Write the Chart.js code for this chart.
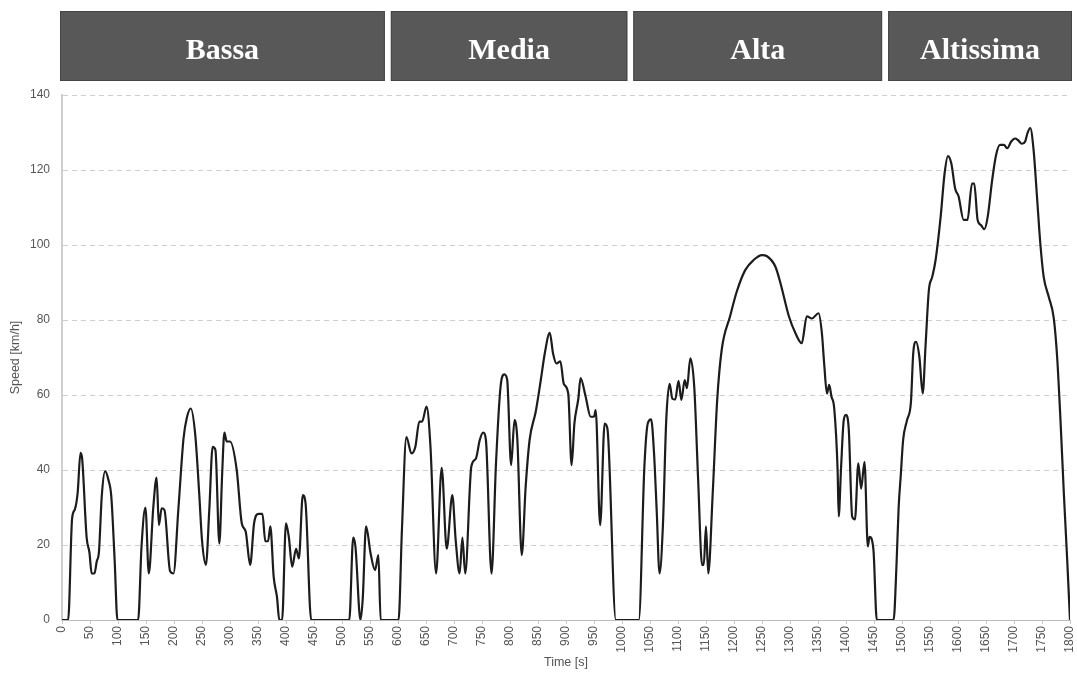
<!DOCTYPE html>
<html>
<head>
<meta charset="utf-8">
<script src="https://cdn.jsdelivr.net/npm/chart.js@4/dist/chart.umd.min.js"></script>
<style>
  html, body { margin: 0; padding: 0; background: #ffffff; }
  #wrap { width: 1077px; height: 673px; position: relative; }
</style>
</head>
<body>
<div id="wrap"><canvas id="speedChart"></canvas></div>
<script>
// Driving cycle: time [s] and vehicle speed [km/h]
const timeS = [
  0, 11, 18, 23, 28, 33, 36, 44, 49, 53, 58, 62, 66, 71, 77, 83, 88, 94, 99,
  136, 142, 149, 155, 163, 169, 173, 178, 183, 193, 199, 208, 217, 223, 230,
  238, 245, 250, 257, 263, 269, 274, 281, 286, 290, 294, 300, 312, 321, 328,
  336, 343, 351, 358, 363, 368, 372, 378, 384, 388, 393, 400, 405, 411, 418,
  423, 430, 435, 445, 513, 520, 524, 533, 537, 543, 551, 559, 565, 569,
  601, 607, 615, 624, 631, 638, 643, 651, 658, 668, 678, 687, 697, 703, 710,
  715, 720, 731, 739, 746, 752, 757, 767, 775, 783, 790, 795, 802, 808, 813,
  821, 828, 835, 846, 855, 862, 871, 877, 883, 890, 896, 904, 910, 915, 922,
  926, 935, 944, 950, 953, 961, 969, 974, 989,
  1030, 1040, 1046, 1052, 1057, 1062, 1067, 1073, 1079, 1085, 1090, 1095,
  1101, 1106, 1112, 1116, 1122, 1129, 1136, 1143, 1146, 1150, 1154, 1162,
  1170, 1178, 1193, 1205, 1220, 1235, 1250, 1259, 1274, 1283, 1298, 1310,
  1321, 1330, 1339, 1351, 1357, 1361, 1366, 1370, 1374, 1379, 1385, 1387,
  1391, 1396, 1400, 1405, 1411, 1416, 1422, 1427, 1433, 1439, 1442, 1449, 1455,
  1485, 1490, 1494, 1498, 1502, 1509, 1516, 1520, 1525, 1531, 1537, 1542,
  1548, 1554, 1560, 1569, 1576, 1582, 1588, 1595, 1601, 1610, 1617, 1625,
  1629, 1635, 1641, 1647, 1653, 1661, 1668, 1675, 1682, 1688, 1695, 1702,
  1707, 1714, 1720, 1724, 1729, 1735, 1741, 1747, 1753, 1762, 1771, 1777,
  1783, 1789, 1795, 1800
];

const speedKmh = [
  0, 0, 27, 29.5, 34, 44.6, 43, 22, 18, 12.4, 12.4, 15.6, 18.2, 33, 39.7, 37.3, 33, 16, 0,
  0, 19.6, 30, 12.4, 30, 38, 25.3, 29.8, 29.3, 13, 12.4, 30, 48.4, 54, 56.4,
  49.3, 33.8, 21.3, 14.7, 29.3, 46.2, 45.3, 20.4, 39, 50, 47.6, 47.6, 40, 25.8, 23.6,
  14.7, 25.8, 28.3, 28.3, 21, 21, 25, 11.5, 6, 0, 0, 25.8, 22.2, 14.2, 19,
  16.4, 33.3, 31, 0, 0, 22, 19.6, 0, 5.6, 25, 17.8, 13.3, 17.3, 0,
  0, 24, 48.8, 44.4, 46.2, 52.9, 52.9, 56.9, 46.2, 12.4, 40.6, 19, 33.3, 21.3, 12.4,
  22, 12.4, 41, 43, 48, 50, 48, 12.4, 41.8, 62, 65.5, 64, 41.3, 53.3, 48.4,
  17.3, 35.6, 48, 55.6, 64, 71, 76.6, 71, 68.4, 69, 63, 60.4, 41.3, 52.4, 59,
  64.5, 59.6, 54.2, 54.2, 56, 25.3, 52.4, 51, 0,
  0, 41, 52.4, 53.5, 45, 29, 12.4, 25, 53.3, 63, 59, 58.8,
  63.8, 58.7, 64, 61.8, 69.8, 62.2, 37.3, 14.7, 14.7, 25, 12.4, 33.8,
  58.7, 72, 81, 87.6, 93.3, 96, 97.3, 97, 94.2, 89.8, 81, 76.4,
  73.8, 81, 80.4, 81.8, 76.4, 68.4, 60.4, 62.7, 59.6, 56.4, 40, 27.6,
  40, 53.3, 54.7, 50.7, 27.6, 26.8, 41.8, 35, 42.2, 19.6, 22.2, 18.7, 0,
  0, 14, 30, 39, 48, 53.3, 58.2, 71, 74.2, 70.2, 60.4, 73,
  88, 91.5, 96, 107.5, 119, 123.7, 121.8, 115, 113, 106.7, 106.7, 116.4,
  116.4, 106.7, 105.3, 104.2, 107.5, 117.3, 124, 126.7, 126.7, 125.8, 127.6, 128.4,
  128, 127, 127.6, 129.8, 131.2, 125.3, 113, 100.4, 91.5, 86.2, 80.5, 70.2,
  53.3, 33.8, 16, 0
];

// Cycle phases and their limits [s]
const phaseNames = ['Bassa', 'Media', 'Alta', 'Altissima'];
const phaseLimits = [0, 589, 1022, 1477, 1800];

// Axis ranges
const timeMax = 1800;
const timeStep = 50;
const speedMax = 140;
const speedStep = 20;

const points = timeS.map((t, i) => ({ x: t, y: speedKmh[i] }));

// Dark header bands naming each phase above the plot
const phaseHeaders = {
  id: 'phaseHeaders',
  afterDraw(chart) {
    const { ctx, scales: { x }, chartArea } = chart;
    const top = 11, bottom = 81;
    ctx.save();
    phaseNames.forEach((name, i) => {
      let x0 = x.getPixelForValue(phaseLimits[i]) - 1;
      let x1 = x.getPixelForValue(phaseLimits[i + 1]) - 7;
      if (i === 0) x0 = chartArea.left - 2;
      if (i === phaseNames.length - 1) x1 = chartArea.right + 2;
      ctx.fillStyle = '#585858';
      ctx.fillRect(x0, top, x1 - x0, bottom - top);
      ctx.strokeStyle = '#454545';
      ctx.lineWidth = 1;
      ctx.strokeRect(x0 + 0.5, top + 0.5, x1 - x0 - 1, bottom - top - 1);
      ctx.fillStyle = '#ffffff';
      ctx.font = 'bold 30px "Liberation Serif", "Times New Roman", serif';
      ctx.textAlign = 'center';
      ctx.textBaseline = 'alphabetic';
      ctx.fillText(name, (x0 + x1) / 2, 59);
    });
    ctx.restore();
  }
};

Chart.defaults.font.family = '"Liberation Sans", Arial, sans-serif';
Chart.defaults.color = '#555555';

new Chart(document.getElementById('speedChart'), {
  type: 'line',
  data: {
    datasets: [{
      label: 'Speed',
      data: points,
      borderColor: '#1c1c1c',
      borderWidth: 2.2,
      pointRadius: 0,
      fill: false,
      cubicInterpolationMode: 'monotone'
    }]
  },
  options: {
    responsive: true,
    maintainAspectRatio: false,
    animation: false,
    layout: { padding: { top: 95, right: 7, bottom: 0, left: 0 } },
    plugins: {
      legend: { display: false },
      tooltip: { enabled: false }
    },
    scales: {
      x: {
        type: 'linear',
        min: 0,
        max: timeMax,
        afterFit(scale) {
          scale.height = 53;
          scale.paddingRight = 0;
          scale.paddingLeft = 0;
        },
        ticks: {
          stepSize: timeStep,
          autoSkip: false,
          minRotation: 90,
          maxRotation: 90,
          padding: 2,
          font: { size: 12 },
          color: '#555555',
          callback: (v) => String(v)
        },
        grid: {
          drawOnChartArea: false,
          drawTicks: true,
          tickLength: 4,
          color: '#c8c8c8'
        },
        border: { display: true, color: '#bdbdbd', width: 1 },
        title: {
          display: true,
          text: 'Time [s]',
          font: { size: 12.5 },
          color: '#555555',
          padding: { top: 0, bottom: 3 }
        }
      },
      y: {
        min: 0,
        max: speedMax,
        afterFit(scale) { scale.width = 62; },
        ticks: {
          stepSize: speedStep,
          padding: 12,
          font: { size: 12 },
          color: '#555555'
        },
        grid: {
          drawTicks: false,
          color: (c) => c.tick && c.tick.value === 0 ? 'rgba(0,0,0,0)' : '#cfcfcf',
          lineWidth: 1
        },
        border: { display: true, color: '#cfcfcf', width: 2, dash: [5, 4] },
        title: {
          display: true,
          text: 'Speed [km/h]',
          font: { size: 12.5 },
          color: '#555555',
          padding: { top: 8, bottom: 0 }
        }
      }
    }
  },
  plugins: [phaseHeaders]
});
</script>
</body>
</html>
